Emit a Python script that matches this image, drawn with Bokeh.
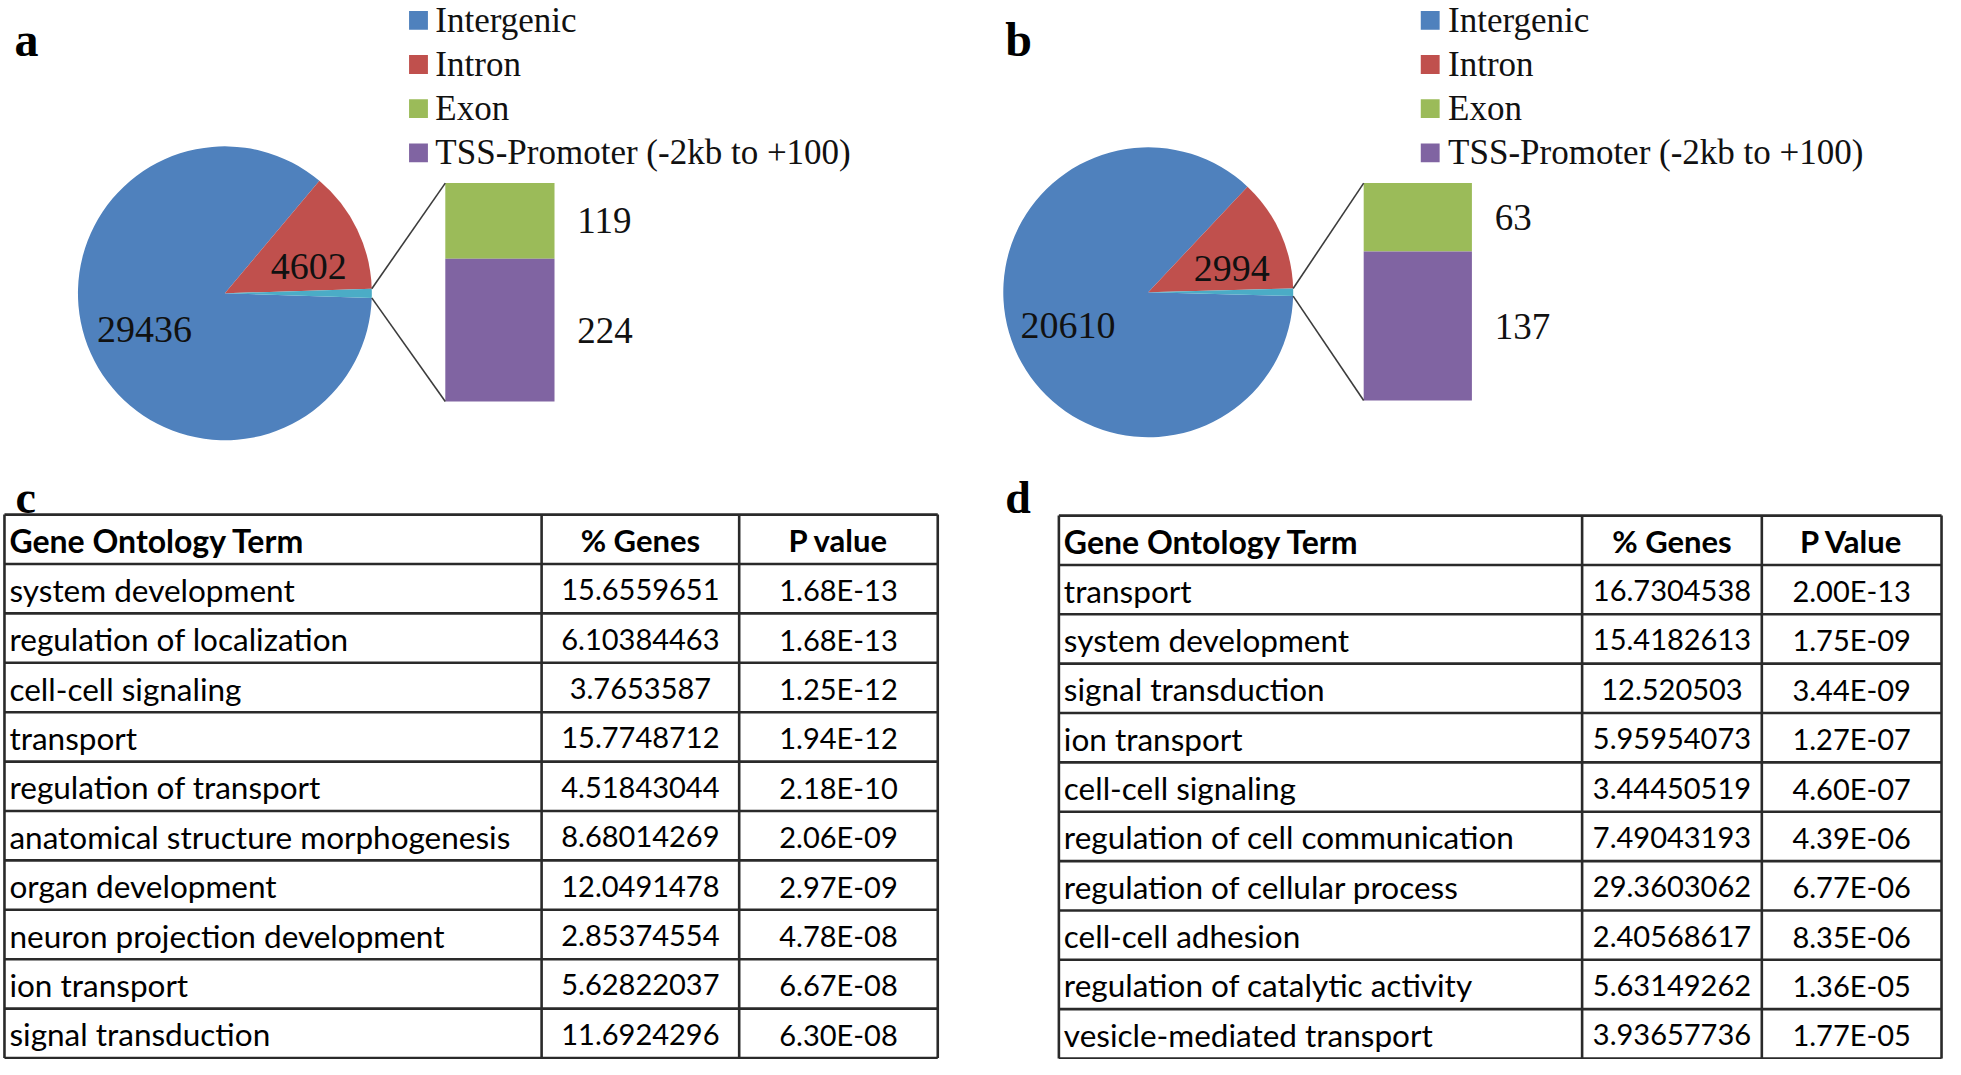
import math
from bokeh.plotting import figure
from bokeh.models import Range1d
from bokeh.embed import file_html
from bokeh.resources import INLINE
from bokeh.core.properties import value

# ---------------- data ----------------
categories = ["Intergenic", "Intron", "Exon", "TSS-Promoter (-2kb to +100)"]
counts_a = [29436, 4602, 119, 224]
counts_b = [20610, 2994, 63, 137]

header_c = ["Gene Ontology Term", "% Genes", "P value"]
terms_c = ["system development", "regulation of localization", "cell-cell signaling",
           "transport", "regulation of transport", "anatomical structure morphogenesis",
           "organ development", "neuron projection development", "ion transport",
           "signal transduction"]
genes_c = [15.6559651, 6.10384463, 3.7653587, 15.7748712, 4.51843044, 8.68014269,
           12.0491478, 2.85374554, 5.62822037, 11.6924296]
pvals_c = [1.68e-13, 1.68e-13, 1.25e-12, 1.94e-12, 2.18e-10, 2.06e-09,
           2.97e-09, 4.78e-08, 6.67e-08, 6.30e-08]

header_d = ["Gene Ontology Term", "% Genes", "P Value"]
terms_d = ["transport", "system development", "signal transduction", "ion transport",
           "cell-cell signaling", "regulation of cell communication",
           "regulation of cellular process", "cell-cell adhesion",
           "regulation of catalytic activity", "vesicle-mediated transport"]
genes_d = [16.7304538, 15.4182613, 12.520503, 5.95954073, 3.44450519, 7.49043193,
           29.3603062, 2.40568617, 5.63149262, 3.93657736]
pvals_d = [2.00e-13, 1.75e-09, 3.44e-09, 1.27e-07, 4.60e-07, 4.39e-06,
           6.77e-06, 8.35e-06, 1.36e-05, 1.77e-05]

# ---------------- style ----------------
COLORS = ["#4F81BD", "#C0504D", "#9BBB59", "#8064A2"]
OTHER = "#4BACC6"
SERIF = value("Liberation Serif")
SANS = value("Lato")
INK = "#111111"

p = figure(width=1945, height=1059, x_range=Range1d(1, 1960), y_range=Range1d(-1071, -4),
           output_backend="svg", toolbar_location=None, min_border=0,
           x_axis_type=None, y_axis_type=None)
p.grid.visible = False
p.outline_line_color = None
p.background_fill_color = "white"
p.border_fill_color = "white"


def Y(v):
    return -v


def pie_panel(counts, letter, letter_x, cx, cy, r, bx0, bx1, btop, bbot, sq_x, txt_x):
    tau = 2 * math.pi
    total = sum(counts)
    other = counts[2] + counts[3]
    a_other = other / total * tau
    o_s, o_e = -a_other / 2, a_other / 2
    r_s, r_e = o_e, o_e + counts[1] / total * tau
    b_s, b_e = r_e, o_s + tau
    p.wedge(x=[cx] * 3, y=[Y(cy)] * 3, radius=r,
            start_angle=[b_s, r_s, o_s], end_angle=[b_e, r_e, o_e],
            fill_color=[COLORS[0], COLORS[1], OTHER], line_color=None)
    # bar of pie
    scale = (bbot - btop) / other
    mid_y = bbot - counts[3] * scale
    p.quad(left=[bx0, bx0], right=[bx1, bx1], top=[Y(btop), Y(mid_y)],
           bottom=[Y(mid_y), Y(bbot)], fill_color=[COLORS[2], COLORS[3]], line_color=None)
    # connector lines
    p.segment(x0=[cx + r * math.cos(o_e), cx + r * math.cos(o_s)],
              y0=[Y(cy) + r * math.sin(o_e), Y(cy) + r * math.sin(o_s)],
              x1=[bx0, bx0], y1=[Y(btop), Y(bbot)], line_color="#3c3c3c", line_width=1.6)
    # pie labels
    mb = (b_s + b_e) / 2
    mr = (r_s + r_e) / 2 - math.radians(8)
    lx = [cx + 0.6 * r * math.cos(mb), cx + 0.6 * r * math.cos(mr)]
    ly = [Y(cy) + 0.6 * r * math.sin(mb), Y(cy) + 0.6 * r * math.sin(mr)]
    p.text(x=lx, y=ly, text=[str(counts[0]), str(counts[1])], text_font=SERIF,
           text_font_size="38px", text_align="center", text_baseline="middle",
           text_color=INK)
    # bar labels
    p.text(x=[bx1 + 23, bx1 + 23], y=[Y((btop + mid_y) / 2), Y((mid_y + bbot) / 2)],
           text=[str(counts[2]), str(counts[3])], text_font=SERIF, text_font_size="37px",
           text_align="left", text_baseline="middle", text_color=INK)
    # legend
    rows = [24 + i * 44.5 for i in range(len(categories))]
    p.rect(x=[sq_x] * 4, y=[Y(v) for v in rows], width=19, height=19,
           fill_color=COLORS, line_color=None)
    p.text(x=[txt_x] * 4, y=[Y(v) for v in rows], text=categories, text_font=SERIF,
           text_font_size="35px", text_align="left", text_baseline="middle",
           text_color=INK)
    # panel letter
    p.text(x=[letter_x], y=[Y(43)], text=[letter], text_font=SERIF, text_font_style="bold",
           text_font_size="48px", text_align="left", text_baseline="alphabetic", text_color="#000")


pie_panel(counts_a, "a", 15, 227, 299, 148, 449, 559, 188, 408, 422, 439)
pie_panel(counts_b, "b", 1013, 1157, 298, 146, 1374, 1483, 188, 407, 1441, 1459)


def table_panel(letter, letter_x, header, terms, genes, pvals, xe, top, bottom):
    n = len(terms) + 1
    rh = (bottom - top) / n
    ys = [top + k * rh for k in range(n + 1)]
    p.segment(x0=[xe[0]] * len(ys), x1=[xe[-1]] * len(ys), y0=[Y(v) for v in ys],
              y1=[Y(v) for v in ys], line_color="#2a2a2a", line_width=2.6)
    p.segment(x0=xe, x1=xe, y0=[Y(top)] * len(xe), y1=[Y(bottom)] * len(xe),
              line_color="#2a2a2a", line_width=2.6)
    cy = [Y(top + (k + 0.5) * rh + 1) for k in range(n)]
    c1 = (xe[1] + xe[2]) / 2
    c2 = (xe[2] + xe[3]) / 2
    # header
    p.text(x=[xe[0] + 5], y=[cy[0]], text=[header[0]], text_font=SANS, text_font_style="bold",
           text_font_size="32px", text_align="left", text_baseline="middle", text_color="#000")
    p.text(x=[c1, c2], y=[cy[0], cy[0]], text=header[1:], text_font=SANS,
           text_font_style="bold", text_font_size="31px", text_align="center",
           text_baseline="middle", text_color="#000")
    # body
    p.text(x=[xe[0] + 5] * len(terms), y=cy[1:], text=terms, text_font=SANS,
           text_font_size="31.5px", text_align="left", text_baseline="middle",
           text_color="#000")
    p.text(x=[c1] * len(genes), y=cy[1:], text=[repr(g) for g in genes], text_font=SANS,
           text_font_size="29px", text_align="center", text_baseline="middle",
           text_color="#000")
    p.text(x=[c2] * len(pvals), y=cy[1:], text=["{:.2E}".format(v) for v in pvals],
           text_font=SANS, text_font_size="29px", text_align="center",
           text_baseline="middle", text_color="#000")
    p.text(x=[letter_x], y=[Y(505)], text=[letter], text_font=SERIF, text_font_style="bold",
           text_font_size="46px", text_align="left", text_baseline="alphabetic", text_color="#000")


table_panel("c", 16, header_c, terms_c, genes_c, pvals_c, [5, 546, 745, 945], 522, 1069.5)
table_panel("d", 1013, header_d, terms_d, genes_d, pvals_d, [1067, 1594, 1775, 1956], 523, 1070)

open("out.html", "w").write(file_html(p, INLINE))
